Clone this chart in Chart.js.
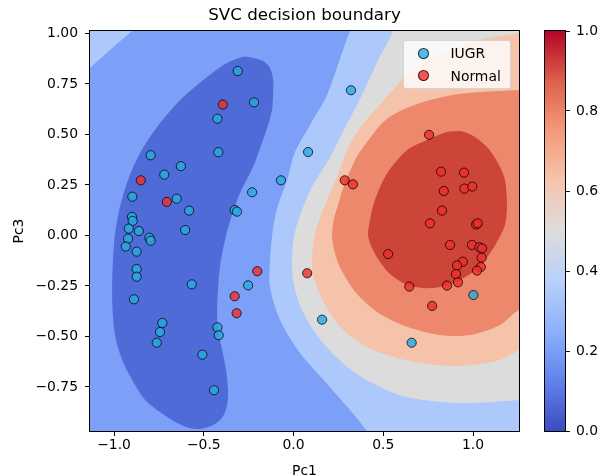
<!DOCTYPE html>
<html>
<head>
<meta charset="utf-8">
<script src="https://cdn.jsdelivr.net/npm/chart.js@4.4.1/dist/chart.umd.min.js"></script>
<style>
  html, body { margin: 0; padding: 0; background: #fff; overflow: hidden; }
  #wrap { position: relative; width: 599px; height: 476px; font-family: 'DejaVu Sans', sans-serif; }
  #main { position: absolute; left: 0; top: 0; }
  #cbar { position: absolute; left: 520px; top: 0; }
  #legend {
    position: absolute; left: 403px; top: 40px; width: 106px; height: 47px;
    background: rgba(255,255,255,0.8); border: 1px solid rgba(204,204,204,0.8); border-radius: 3px;
  }
  .legend-row { position: absolute; left: 0; height: 22px; line-height: 22px; font-size: 13.9px; color: #000; white-space: nowrap; }
  .legend-dot { position: absolute; top: 5.6px; width: 9.2px; height: 9.2px; border-radius: 50%; border: 1px solid rgba(0,0,0,0.75); }
  .legend-label { position: absolute; }
</style>
</head>
<body>
<div id="wrap">
  <canvas id="main" width="599" height="476"></canvas>
  <canvas id="cbar" width="79" height="476"></canvas>
  <div id="legend"></div>
</div>
<script>
// ─── Pontos (Pc1, Pc3) ────────────────────────────────────
const seriesNames = ['IUGR', 'Normal'];

const iugrX = [-0.311, -0.220, -0.424, -0.419, -0.796, -0.628, -0.720, -0.070, -0.231, -0.898,
               -0.651, -0.582, -0.328, -0.315, -0.900, -0.896, -0.918, -0.862, -0.604, -0.922,
               -0.803, -0.796, -0.935, -0.874, -0.874, -0.874, -0.567, -0.889, -0.253, -0.731,
               -0.744, -0.762, -0.424, -0.417, -0.508, -0.443, 0.320, 0.081, 0.159, 1.002, 0.658];
const iugrY = [0.814, 0.659, 0.578, 0.412, 0.397, 0.343, 0.301, 0.273, 0.214, 0.192,
               0.182, 0.123, 0.126, 0.118, 0.092, 0.072, 0.034, 0.022, 0.027, -0.016,
               -0.011, -0.026, -0.055, -0.080, -0.166, -0.204, -0.242, -0.316, -0.247, -0.433,
               -0.478, -0.531, -0.455, -0.494, -0.590, -0.766, 0.719, 0.413, -0.417, -0.295, -0.531];

const normalX = [-0.394, -0.851, -0.706, -0.328, -0.317, -0.202, 0.076, 0.285, 0.331, 0.755,
                 0.822, 0.950, 0.837, 0.952, 0.996, 0.827, 0.760, 1.017, 1.026, 0.872,
                 0.994, 1.035, 1.050, 0.527, 1.048, 0.943, 0.911, 1.043, 1.022, 0.905,
                 0.916, 0.855, 0.645, 0.772];
const normalY = [0.648, 0.273, 0.166, -0.301, -0.385, -0.177, -0.187, 0.273, 0.253, 0.498,
                 0.316, 0.311, 0.220, 0.232, 0.242, 0.123, 0.060, 0.054, 0.060, -0.047,
                 -0.047, -0.058, -0.064, -0.092, -0.110, -0.130, -0.148, -0.156, -0.174, -0.191,
                 -0.232, -0.248, -0.253, -0.349];

// ─── Eixos ────────────────────────────────────────────────
const xRange = [-1.134, 1.256];
const yRange = [-0.968, 1.012];
const xTicks = [-1.0, -0.5, 0.0, 0.5, 1.0];
const yTicks = [-0.75, -0.5, -0.25, 0.0, 0.25, 0.5, 0.75, 1.0];
const cbarTicks = [0.0, 0.2, 0.4, 0.6, 0.8, 1.0];

// ─── Faixas do contorno (polígonos em coordenadas de dados) ──
const lightBlueBand = [[0.40, 1.15], [0.315, 1.012], [0.187, 0.696], [0.092, 0.547], [0.008, 0.413],
  [-0.036, 0.275], [-0.086, 0.151], [-0.114, 0.037], [-0.131, -0.121], [-0.131, -0.255],
  [-0.075, -0.418], [0.036, -0.582], [0.203, -0.751], [0.409, -0.969], [0.47, -1.1],
  [1.4, -1.1], [1.4, 1.15]];
const cornerBand = [[-1.3, 0.70], [-1.134, 0.829], [-1.02, 0.92], [-0.90, 1.012], [-0.82, 1.074], [-1.3, 1.074]];
const greyBand = [[0.58, 1.15], [0.554, 1.012], [0.471, 0.869], [0.382, 0.696], [0.287, 0.532],
  [0.192, 0.369], [0.109, 0.250], [0.047, 0.126], [0.008, 0.017], [-0.008, -0.097],
  [-0.003, -0.220], [0.036, -0.344], [0.092, -0.443], [0.175, -0.542], [0.287, -0.641],
  [0.426, -0.725], [0.632, -0.800], [0.911, -0.829], [1.256, -0.814], [1.4, -0.80], [1.4, 1.15]];
const lightSalmonBand = [[1.4, 1.05], [1.256, 1.002], [1.039, 0.968], [0.816, 0.894], [0.649, 0.809],
  [0.554, 0.720], [0.454, 0.621], [0.370, 0.532], [0.298, 0.423], [0.248, 0.300],
  [0.175, 0.151], [0.125, 0.027], [0.103, -0.097], [0.109, -0.196], [0.148, -0.295],
  [0.220, -0.408], [0.315, -0.498], [0.443, -0.567], [0.649, -0.621], [0.911, -0.646],
  [1.150, -0.616], [1.256, -0.567], [1.4, -0.52]];
const salmonBand = [[1.4, 0.73], [1.256, 0.720], [1.039, 0.710], [0.855, 0.691], [0.705, 0.656],
  [0.593, 0.616], [0.499, 0.562], [0.426, 0.483], [0.359, 0.399], [0.315, 0.319],
  [0.276, 0.235], [0.248, 0.151], [0.226, 0.087], [0.214, 0.002], [0.226, -0.072],
  [0.253, -0.146], [0.298, -0.220], [0.359, -0.295], [0.465, -0.379], [0.621, -0.448],
  [0.816, -0.493], [0.983, -0.493], [1.150, -0.443], [1.256, -0.369], [1.4, -0.33]];
const redCore = [[0.928, 0.517], [0.855, 0.512], [0.744, 0.473], [0.649, 0.433], [0.593, 0.389],
  [0.526, 0.314], [0.482, 0.240], [0.448, 0.161], [0.426, 0.077], [0.415, 0.002],
  [0.437, -0.062], [0.482, -0.131], [0.538, -0.191], [0.621, -0.240], [0.721, -0.260],
  [0.816, -0.255], [0.928, -0.220], [1.028, -0.161], [1.095, -0.087], [1.139, -0.022],
  [1.178, 0.052], [1.189, 0.151], [1.178, 0.275], [1.150, 0.339], [1.111, 0.399],
  [1.078, 0.438], [1.011, 0.488], [0.960, 0.510]];
const blueCore = [[-0.337, 0.869], [-0.281, 0.884], [-0.226, 0.879], [-0.170, 0.864], [-0.131, 0.829], [-0.114, 0.770],
  [-0.114, 0.696], [-0.120, 0.621], [-0.142, 0.547], [-0.170, 0.473], [-0.226, 0.339],
  [-0.298, 0.210], [-0.343, 0.101], [-0.382, -0.022], [-0.409, -0.146], [-0.421, -0.270],
  [-0.426, -0.403], [-0.415, -0.493], [-0.398, -0.567], [-0.376, -0.666], [-0.365, -0.765],
  [-0.370, -0.839], [-0.398, -0.903], [-0.448, -0.938], [-0.521, -0.958], [-0.577, -0.953],
  [-0.660, -0.923], [-0.744, -0.874], [-0.827, -0.814], [-0.883, -0.740], [-0.950, -0.626],
  [-0.989, -0.517], [-1.006, -0.403], [-1.011, -0.270], [-1.006, -0.121], [-0.994, 0.012],
  [-0.967, 0.141], [-0.922, 0.275], [-0.855, 0.408], [-0.760, 0.537], [-0.632, 0.671],
  [-0.482, 0.785], [-0.382, 0.849]];

// ─── Cores ────────────────────────────────────────────────
const baseColor = '#7c9ff8';
const bandColors = {
  lightBlue: '#adc9fc', grey: '#dcdcdc', lightSalmon: '#f5c3aa',
  salmon: '#ee886c', redCore: '#cd4439', blueCore: '#4f6bd7',
};
const pointColors = ['rgba(40,170,225,0.8)', 'rgba(240,45,45,0.8)'];
const coolwarm = [
  [0.0, '#3b4cc0'], [0.125, '#6282ea'], [0.25, '#8db0fe'], [0.375, '#b8d0f9'], [0.5, '#dddddd'],
  [0.625, '#f5c4ad'], [0.75, '#f49a7b'], [0.875, '#de604d'], [1.0, '#b40426'],
];

const FONT = "'DejaVu Sans', sans-serif";
const fmt = (v, d) => (v < 0 ? '\u2212' : '') + Math.abs(v).toFixed(d);

function contour(poly, color, order) {
  return {
    type: 'line',
    data: poly.map(([x, y]) => ({ x, y })),
    fill: 'shape',
    backgroundColor: color,
    borderColor: 'rgba(0,0,0,0)',
    borderWidth: 0,
    pointRadius: 0,
    pointHoverRadius: 0,
    tension: 0.3,
    capBezierPoints: false,
    order,
  };
}

function scatter(label, xs, ys, color, order) {
  return {
    type: 'scatter',
    label,
    data: xs.map((x, i) => ({ x, y: ys[i] })),
    backgroundColor: color,
    borderColor: 'rgba(0,0,0,0.75)',
    borderWidth: 1,
    pointRadius: 4.6,
    pointHoverRadius: 4.6,
    order,
  };
}

// fundo da área do gráfico + moldura
const frame = {
  id: 'frame',
  beforeDatasetsDraw(chart, args, opts) {
    const { ctx, chartArea: a } = chart;
    if (opts.gradient) {
      const g = ctx.createLinearGradient(0, a.bottom, 0, a.top);
      opts.gradient.forEach(([s, c]) => g.addColorStop(s, c));
      ctx.fillStyle = g;
    } else {
      ctx.fillStyle = opts.fill;
    }
    ctx.fillRect(a.left, a.top, a.right - a.left, a.bottom - a.top);
  },
  afterDraw(chart) {
    const { ctx, chartArea: a } = chart;
    ctx.save();
    ctx.strokeStyle = '#000';
    ctx.lineWidth = 1;
    ctx.strokeRect(Math.round(a.left) - 0.5, Math.round(a.top) - 0.5,
                   Math.round(a.right - a.left) + 1, Math.round(a.bottom - a.top) + 1);
    ctx.restore();
  },
};

const tickFont = { family: FONT, size: 13.9 };
const axisGrid = { display: true, drawOnChartArea: false, drawTicks: true, tickLength: 5, color: '#000', lineWidth: 1 };

new Chart(document.getElementById('main'), {
  type: 'scatter',
  data: {
    datasets: [
      scatter(seriesNames[1], normalX, normalY, pointColors[1], 0),
      scatter(seriesNames[0], iugrX, iugrY, pointColors[0], 1),
      contour(blueCore, bandColors.blueCore, 10),
      contour(redCore, bandColors.redCore, 11),
      contour(salmonBand, bandColors.salmon, 12),
      contour(lightSalmonBand, bandColors.lightSalmon, 13),
      contour(greyBand, bandColors.grey, 14),
      contour(cornerBand, bandColors.lightBlue, 15),
      contour(lightBlueBand, bandColors.lightBlue, 16),
    ],
  },
  options: {
    responsive: false,
    animation: false,
    events: [],
    layout: { padding: { left: 0, right: 80, top: 0, bottom: 0 }, autoPadding: false },
    scales: {
      x: {
        type: 'linear', position: 'bottom', min: xRange[0], max: xRange[1],
        afterBuildTicks: s => { s.ticks = xTicks.map(v => ({ value: v })); },
        afterFit: s => { s.height = 45; },
        ticks: { callback: v => fmt(v, 1), color: '#000', font: tickFont, padding: 1, maxRotation: 0, autoSkip: false },
        grid: axisGrid,
        border: { display: true, color: '#000', width: 1 },
        title: { display: true, text: 'Pc1', color: '#000', font: { family: FONT, size: 13.9, lineHeight: 0.65 }, padding: { top: 0, bottom: 0 } },
      },
      y: {
        type: 'linear', position: 'left', min: yRange[0], max: yRange[1],
        afterBuildTicks: s => { s.ticks = yTicks.map(v => ({ value: v })); },
        afterFit: s => { s.width = 90; },
        ticks: { callback: v => fmt(v, 2), color: '#000', font: tickFont, padding: 7, autoSkip: false },
        grid: axisGrid,
        border: { display: true, color: '#000', width: 1 },
        title: { display: true, text: 'Pc3', color: '#000', font: { family: FONT, size: 13.9, lineHeight: 1 }, padding: { top: 12, bottom: 0 } },
      },
    },
    plugins: {
      legend: { display: false },
      tooltip: { enabled: false },
      title: {
        display: true, text: 'SVC decision boundary', color: '#000', fullSize: false,
        font: { family: FONT, size: 16.7, weight: 'normal', lineHeight: 1.2 },
        padding: { top: 6, bottom: 5 },
      },
      frame: { fill: baseColor },
    },
  },
  plugins: [frame],
});

// ─── Barra de cores ───────────────────────────────────────
new Chart(document.getElementById('cbar'), {
  type: 'scatter',
  data: { datasets: [] },
  options: {
    responsive: false,
    animation: false,
    events: [],
    layout: { padding: { left: 25, right: 0, top: 31, bottom: 45 }, autoPadding: false },
    scales: {
      x: { display: false, min: 0, max: 1 },
      y: {
        type: 'linear', position: 'right', min: 0, max: 1,
        afterBuildTicks: s => { s.ticks = cbarTicks.map(v => ({ value: v })); },
        afterFit: s => { s.width = 34; },
        ticks: { callback: v => fmt(v, 1), color: '#000', font: tickFont, padding: 6, autoSkip: false },
        grid: axisGrid,
        border: { display: true, color: '#000', width: 1 },
      },
    },
    plugins: {
      legend: { display: false },
      tooltip: { enabled: false },
      frame: { gradient: coolwarm },
    },
  },
  plugins: [frame],
});

// ─── Legenda (texto em HTML) ──────────────────────────────
const legend = document.getElementById('legend');
legend.innerHTML = seriesNames.map((name, i) => `
  <div class="legend-row" style="top:${1.3 + i * 22.4}px; width:100%;">
    <span class="legend-dot" style="left:14.2px; background:${pointColors[i]};"></span>
    <span class="legend-label" style="left:46.5px;">${name}</span>
  </div>`).join('');
</script>
</body>
</html>
